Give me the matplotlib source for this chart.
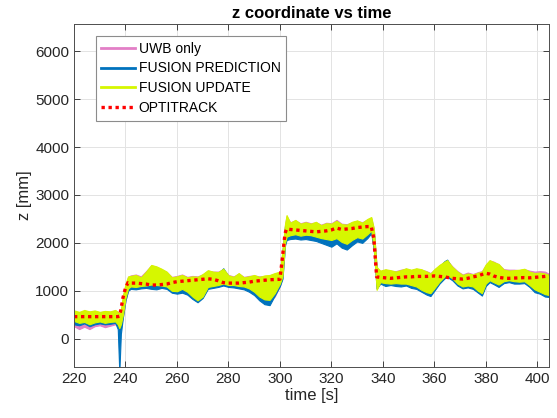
import matplotlib
matplotlib.use("Agg")
import matplotlib.pyplot as plt
from matplotlib.lines import Line2D

plt.rcParams['font.family'] = ['Liberation Sans', 'DejaVu Sans']

# time stamps [s]
t = [220, 222, 224, 226, 228, 230, 232, 234, 236, 237, 237.6, 238.2, 239, 240, 241,
     242, 244, 246, 248, 250, 252, 254, 256, 258, 260, 262, 264, 266, 268, 270,
     272, 274, 276, 278, 280, 282, 284, 286, 288, 290, 292, 294, 296, 298, 300,
     301, 302, 302.6, 304, 306, 308, 310, 312, 314, 316, 318, 320, 322, 324, 326,
     328, 330, 332, 334, 335.5, 336.5, 337.6, 339, 341, 343, 345, 347, 349, 351,
     353, 355, 357, 358.5, 360, 362, 364, 365, 367, 369, 371, 373, 375, 377,
     378.5, 380, 381.5, 383, 385, 387, 389, 391, 393, 395, 397, 399, 401, 403, 404.7]

# fusion update (yellow) envelope [mm]
upd_hi = [590, 560, 600, 570, 590, 560, 580, 570, 600, 560, 520, 600, 900, 1150, 1300,
          1310, 1330, 1280, 1400, 1540, 1510, 1460, 1400, 1280, 1300, 1330, 1280, 1300, 1290, 1350,
          1430, 1400, 1390, 1460, 1320, 1290, 1370, 1280, 1300, 1330, 1290, 1320, 1330, 1370, 1400,
          1850, 2400, 2580, 2420, 2480, 2400, 2430, 2400, 2440, 2370, 2410, 2400, 2460, 2390, 2380,
          2440, 2470, 2420, 2500, 2540, 2300, 1500, 1420, 1450, 1430, 1400, 1430, 1470, 1440,
          1470, 1450, 1400, 1360, 1450, 1540, 1610, 1640, 1500, 1400, 1330, 1360, 1340, 1380,
          1400, 1550, 1640, 1600, 1560, 1440, 1420, 1430, 1440, 1460, 1400, 1370, 1380, 1360, 1330]
upd_lo = [370, 330, 350, 300, 340, 360, 330, 350, 360, 300, 220, 300, 500, 850, 1050,
          1090, 1080, 1100, 1110, 1130, 1120, 1110, 1090, 1000, 990, 1040, 980, 880, 800, 880,
          1080, 1100, 1120, 1150, 1120, 1120, 1100, 1090, 1050, 980, 880, 820, 810, 950, 1150,
          1300, 2000, 2130, 2160, 2180, 2150, 2170, 2160, 2130, 2100, 2080, 2060, 2100, 2020, 1980,
          2060, 2120, 2090, 2180, 2260, 1900, 1020, 1180, 1160, 1150, 1160, 1150, 1150, 1120,
          1090, 1020, 970, 950, 1050, 1190, 1300, 1330, 1260, 1150, 1090, 1110, 1090, 1000,
          950, 1150, 1220, 1180, 1130, 1200, 1220, 1200, 1190, 1200, 1120, 1030, 980, 930, 910]

# fusion prediction (blue) envelope [mm]
pred_hi = [560, 540, 570, 540, 560, 540, 560, 540, 570, 520, 450, 500, 800, 1100, 1250,
           1260, 1290, 1260, 1380, 1500, 1480, 1420, 1360, 1250, 1270, 1300, 1250, 1260, 1250, 1310,
           1400, 1370, 1360, 1470, 1300, 1260, 1340, 1250, 1270, 1290, 1260, 1280, 1290, 1330, 1360,
           1800, 2350, 2450, 2380, 2400, 2360, 2380, 2350, 2380, 2330, 2360, 2350, 2400, 2340, 2330,
           2390, 2420, 2380, 2450, 2480, 2250, 1450, 1380, 1400, 1390, 1370, 1390, 1430, 1400,
           1430, 1400, 1360, 1330, 1420, 1510, 1620, 1650, 1470, 1370, 1300, 1320, 1310, 1340,
           1360, 1500, 1600, 1580, 1530, 1410, 1390, 1400, 1410, 1420, 1370, 1340, 1350, 1330, 1300]
pred_lo = [300, 280, 320, 260, 300, 320, 300, 310, 330, 200, -700, 100, 450, 800, 1000,
           1040, 1030, 1050, 1060, 1040, 1030, 1060, 1040, 960, 940, 960, 920, 830, 760, 850,
           1040, 1060, 1080, 1110, 1080, 1070, 1050, 1030, 980, 910, 800, 720, 700, 900, 1100,
           1250, 1950, 2060, 2080, 2090, 2070, 2080, 2060, 2040, 2000, 1960, 1920, 1990, 1900, 1860,
           1950, 2030, 2000, 2100, 2200, 1850, 1050, 1150, 1100, 1120, 1100, 1090, 1110, 1060,
           1040, 980, 920, 890, 1000, 1150, 1260, 1290, 1220, 1110, 1050, 1070, 1040, 960,
           900, 1100, 1180, 1140, 1080, 1160, 1180, 1150, 1150, 1160, 1080, 970, 940, 880, 870]

# UWB only (pink) envelope [mm]
uwb_hi = [560, 550, 580, 560, 570, 550, 570, 560, 590, 540, 500, 560, 860, 1120, 1290,
          1320, 1340, 1300, 1410, 1530, 1500, 1450, 1390, 1290, 1310, 1340, 1290, 1310, 1300, 1340,
          1420, 1400, 1400, 1450, 1330, 1300, 1360, 1290, 1310, 1320, 1300, 1310, 1320, 1360, 1390,
          1820, 2380, 2560, 2430, 2470, 2410, 2440, 2410, 2430, 2380, 2420, 2410, 2480, 2400, 2390,
          2430, 2460, 2430, 2490, 2520, 2290, 1480, 1410, 1440, 1420, 1410, 1440, 1460, 1430,
          1460, 1440, 1410, 1370, 1440, 1530, 1600, 1630, 1510, 1410, 1340, 1380, 1350, 1390,
          1410, 1540, 1630, 1610, 1550, 1450, 1440, 1440, 1430, 1450, 1420, 1400, 1410, 1400, 1350]
uwb_lo = [260, 200, 250, 200, 260, 280, 240, 270, 300, 280, 250, 250, 450, 800, 1000,
          1060, 1060, 1080, 1090, 1110, 1100, 1090, 1070, 990, 980, 1020, 960, 860, 790, 870,
          1060, 1080, 1100, 1130, 1100, 1100, 1080, 1070, 1030, 960, 860, 800, 790, 880, 1100,
          1280, 1980, 2110, 2120, 2160, 2130, 2150, 2140, 2110, 2080, 2060, 2040, 2080, 2000, 1960,
          2040, 2100, 2070, 2160, 2240, 1880, 1040, 1160, 1140, 1130, 1140, 1130, 1130, 1100,
          1070, 1000, 950, 930, 1030, 1170, 1280, 1310, 1240, 1130, 1070, 1090, 1070, 980,
          930, 1130, 1200, 1160, 1110, 1180, 1200, 1180, 1170, 1180, 1100, 1010, 960, 910, 890]

# OPTITRACK reference [mm]
opti = [460, 460, 460, 460, 460, 460, 460, 460, 460, 460, 470, 600, 850, 1060, 1170,
        1160, 1160, 1150, 1140, 1120, 1120, 1130, 1140, 1170, 1190, 1200, 1210, 1220, 1230, 1240,
        1250, 1240, 1210, 1170, 1160, 1160, 1160, 1170, 1180, 1200, 1210, 1220, 1230, 1235, 1240,
        1700, 2200, 2290, 2280, 2270, 2260, 2250, 2240, 2230, 2240, 2250, 2270, 2310, 2280, 2290,
        2300, 2320, 2330, 2340, 2340, 2100, 1290, 1280, 1270, 1260, 1270, 1280, 1290, 1290,
        1300, 1300, 1300, 1305, 1310, 1300, 1290, 1280, 1260, 1250, 1245, 1260, 1290, 1310,
        1340, 1365, 1350, 1310, 1280, 1265, 1260, 1265, 1270, 1275, 1270, 1280, 1290, 1300, 1310]

labels = ['UWB only', 'FUSION PREDICTION', 'FUSION UPDATE', 'OPTITRACK']
c_uwb, c_pred, c_upd, c_opti = '#e27fc6', '#0072bd', '#d6f700', '#ff0000'

fig = plt.figure(figsize=(5.57, 4.18), dpi=100)
ax = fig.add_axes([0.1329, 0.1227, 0.8533, 0.8206])

ax.fill_between(t, uwb_lo, uwb_hi, color=c_uwb, lw=0.8, edgecolor=c_uwb)
ax.fill_between(t, pred_lo, pred_hi, color=c_pred, lw=0.8, edgecolor=c_pred)
ax.fill_between(t, upd_lo, upd_hi, color=c_upd, lw=0.8, edgecolor=c_upd)
ax.plot(t, opti, color=c_opti, lw=2.4, linestyle=(0, (1, 1.1)))

ax.set_xlim(220, 404.7)
ax.set_ylim(-585, 6575)
ax.set_xticks(range(220, 401, 20))
ax.set_yticks(range(0, 6001, 1000))
ax.grid(True, color='#e3e3e3', lw=0.7)
ax.set_axisbelow(True)
ax.tick_params(direction='in', top=True, right=True, length=4, width=0.6,
               labelsize=11, colors='#262626')
for s in ax.spines.values():
    s.set_color('#4d4d4d')
    s.set_linewidth(0.7)

ax.set_title('z coordinate vs time', fontsize=12, fontweight='bold', pad=4)
ax.set_xlabel('time [s]', fontsize=12, color='#262626', labelpad=2)
ax.set_ylabel('z [mm]', fontsize=12, color='#262626', labelpad=2)

handles = [Line2D([], [], color=c_uwb, lw=2),
           Line2D([], [], color=c_pred, lw=2),
           Line2D([], [], color=c_upd, lw=2),
           Line2D([], [], color=c_opti, lw=2.4, linestyle=(0, (1, 1.1)))]
leg = ax.legend(handles, labels, loc='upper left', bbox_to_anchor=(0.0457, 0.964),
                borderaxespad=0, fontsize=10, fancybox=False, framealpha=1,
                edgecolor='#8c8c8c', handlelength=2.4, handletextpad=0.3,
                labelspacing=0.42, borderpad=0.4)
leg.get_frame().set_linewidth(0.8)

fig.savefig('out.png', dpi=100)
